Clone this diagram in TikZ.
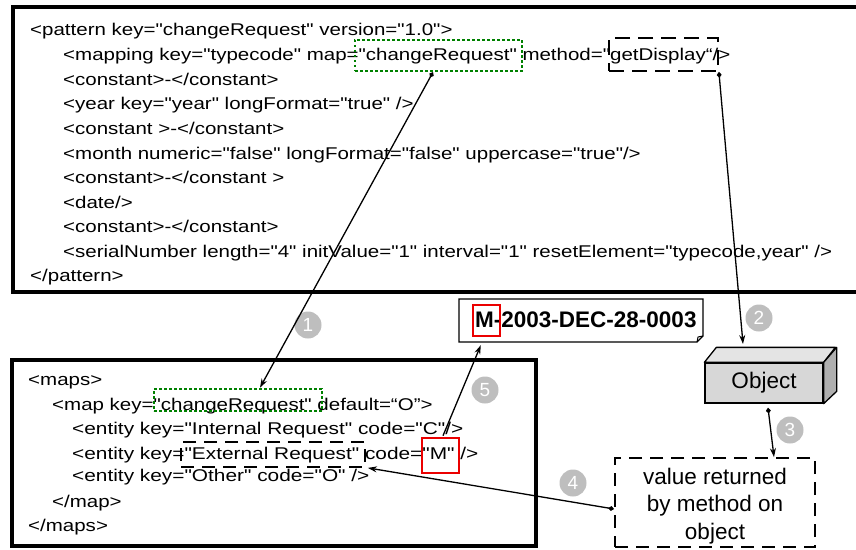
\documentclass[tikz,border=0pt]{standalone}
\usepackage{fontspec}
\setmainfont{Liberation Sans}
\newfontfamily\codefont{Liberation Sans}[FakeStretch=1.206]
\newfontfamily\codefontw{Liberation Sans}[FakeStretch=1.226]
\usetikzlibrary{arrows.meta,calc}
\definecolor{dgreen}{RGB}{0,128,0}
\definecolor{circgray}{RGB}{190,190,190}
\definecolor{redbox}{RGB}{235,0,0}
\definecolor{frontgray}{RGB}{215,215,215}
\definecolor{topgray}{RGB}{228,228,228}
\definecolor{sidegray}{RGB}{175,175,175}
\tikzset{
  code/.style={anchor=base west, inner sep=0pt, font=\codefont\fontsize{17}{20}\selectfont},
  codew/.style={anchor=base west, inner sep=0pt, font=\codefontw\fontsize{17}{20}\selectfont},
  thickbox/.style={draw=black, line width=3.5pt, inner sep=0pt},
  greendot/.style={draw=dgreen, line width=2.6pt, dash pattern=on 2.6pt off 2.4pt, inner sep=0pt},
  blackdash/.style={draw=black, line width=1.8pt, dash pattern=on 15pt off 8pt, inner sep=0pt},
  redframe/.style={draw=redbox, line width=2.6pt, inner sep=0pt},
  numc/.style={circle, fill=circgray, text=white, inner sep=0pt, minimum size=27pt, font=\fontsize{19}{19}\selectfont},
  conn/.style={line width=1.3pt, -{Stealth[length=9pt,width=6pt]}},
  dconn/.style={line width=1.3pt, {Diamond[length=6pt,width=5pt]}-{Stealth[length=9pt,width=6pt]}},
}
\begin{document}
\begin{tikzpicture}[x=1pt,y=-1pt]
\useasboundingbox (0,0) rectangle (856,549);
\fill[white] (0,0) rectangle (856,549);

% top pattern box
\node[thickbox, minimum width=857pt, minimum height=285pt] (topbox) at (441.5,149.5) {};
\node[code] (t1)  at (30,35.5)  {<pattern key="changeRequest" version="1.0">};
\node[code] (t2)  at (63,60.6)  {<mapping key="typecode" map="changeRequest" method="getDisplay“/>};
\node[code] (t3)  at (63,85.2)  {<constant>-</constant>};
\node[code] (t4)  at (63,109.8) {<year key="year" longFormat="true" />};
\node[code] (t5)  at (63,134.4) {<constant >-</constant>};
\node[code] (t6)  at (63,159.0) {<month numeric="false" longFormat="false" uppercase="true"/>};
\node[code] (t7)  at (63,183.6) {<constant>-</constant >};
\node[code] (t8)  at (63,208.2) {<date/>};
\node[code] (t9)  at (63,232.8) {<constant>-</constant>};
\node[code] (t10) at (63,257.4) {<serialNumber length="4" initValue="1" interval="1" resetElement="typecode,year" />};
\node[code] (t11) at (30,281.5) {</pattern>};
\node[greendot, minimum width=167pt, minimum height=31pt] (gtop) at (438.5,55.3) {};
\node[blackdash, minimum width=109pt, minimum height=33pt] (gdisp) at (663.5,54.5) {};

% bottom maps box
\node[thickbox, minimum width=524pt, minimum height=186pt] (botbox) at (274,453) {};
\node[code] (b1) at (28,385) {<maps>};
\node[code] (b2) at (52,410) {<map key="changeRequest" default=“O”>};
\node[codew] (b3) at (72,434) {<entity key="Internal Request" code="C"/>};
\node[codew] (b4) at (72,459) {<entity key="External Request" code="M" />};
\node[codew] (b5) at (72,481) {<entity key="Other" code="O" />};
\node[code] (b6) at (52,507) {</map>};
\node[code] (b7) at (28,531) {</maps>};
\node[greendot, minimum width=168pt, minimum height=22pt] (gbot) at (238,400) {};
\node[blackdash, dash pattern=on 13pt off 8pt, minimum width=184pt, minimum height=25pt] (ext) at (273,454.5) {};
\node[redframe, minimum width=37pt, minimum height=35pt] (redM) at (440.5,455.5) {};

% result note
\draw[line width=1.2pt, fill=white] (459,299) -- (703,299) -- (703,336) -- (697,342) -- (459,342) -- cycle;
\draw[line width=1pt] (697,342) -- (698,337) -- (703,336);
\node[inner sep=0pt, minimum width=244pt, minimum height=43pt] (note) at (581,320.5) {};
\node[anchor=base west, inner sep=0pt, font=\bfseries\fontsize{22.5}{27}\selectfont] (mtext) at (475,327) {M-2003-DEC-28-0003};
\node[redframe, minimum width=27pt, minimum height=31pt] (noteM) at (486.5,320.5) {};

% object cube
\node[draw=black, line width=1.3pt, fill=frontgray, minimum width=118pt, minimum height=40pt, inner sep=0pt, font=\fontsize{22.5}{27}\selectfont] (obj) at (764,383) {Object};
\draw[line width=1.3pt, fill=topgray, line join=round] (obj.north west) -- ++(12,-15) -- ++(119,0) -- (obj.north east) -- cycle;
\draw[line width=1.3pt, fill=sidegray, line join=round] (obj.north east) -- ++(13,-15) -- ++(0,44) -- (obj.south east) -- cycle;
\coordinate (objtop) at (743,344);

% value box
\node[blackdash, dash pattern=on 13pt off 8pt, minimum width=200pt, minimum height=89pt] (vbox) at (715,502.5) {};
\node[align=center, inner sep=0pt, font=\fontsize{22.5}{27.5}\selectfont] (vtext) at (715,506) {value returned\\by method on\\object};

% step numbers
\node[numc] (n1) at (308,325) {1};
\node[numc] (n2) at (759,318) {2};
\node[numc] (n3) at (790,430) {3};
\node[numc] (n4) at (573,483) {4};
\node[numc] (n5) at (485,390) {5};

% connectors
\draw[dconn] ([xshift=-5.5pt]gtop.south) -- ([xshift=22pt]gbot.north);
\draw[dconn] (gdisp.south east) -- (objtop);
\draw[dconn] ([xshift=4pt,yshift=-4pt]obj.south) -- ([xshift=59pt]vbox.north);
\draw[dconn] ([yshift=-6.5pt]vbox.west) -- ([xshift=2pt]ext.south east);
\draw[conn] ([xshift=2.5pt,yshift=1pt]redM.north) -- ([xshift=22pt,yshift=-3pt]note.south west);
\end{tikzpicture}
\end{document}
